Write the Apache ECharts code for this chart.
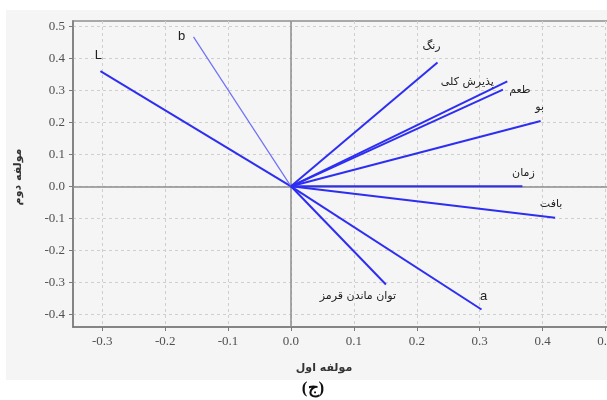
<!DOCTYPE html>
<html>
<head>
<meta charset="utf-8">
<script src="https://cdn.jsdelivr.net/npm/echarts@6/dist/echarts.min.js"></script>
<style>
  html, body { margin: 0; padding: 0; background: #ffffff; }
  #chart { width: 607px; height: 400px; }
</style>
</head>
<body>
<div id="chart"></div>
<script>
// Loading vectors: variable names and their coordinates on the first two components
const variables = ['L', 'b', 'رنگ', 'پذیرش کلی', 'طعم', 'بو', 'زمان', 'بافت', 'توان ماندن قرمز', 'a'];
const pc1 = [-0.303, -0.155, 0.233, 0.344, 0.337, 0.397, 0.368, 0.420, 0.151, 0.303];
const pc2 = [0.360, 0.467, 0.387, 0.328, 0.302, 0.204, 0.000, -0.098, -0.307, -0.385];

// Tick labels on both axes
const xTicks = [-0.3, -0.2, -0.1, 0.0, 0.1, 0.2, 0.3, 0.4, 0.5];
const yTicks = [-0.4, -0.3, -0.2, -0.1, 0.0, 0.1, 0.2, 0.3, 0.4, 0.5];

const xTitle = 'مولفه اول';
const yTitle = 'مولفه دوم';
const panelTag = '(ج)';

// Label placement next to each arrow tip (pixel offsets)
const labelOffsets = [[-2, -16], [-12, 0], [-6, -16], [-40, 1], [17, 0], [-1, -14], [1, -13], [-4, -14], [-28, 12], [2, -13]];

const latinLabel = { fontFamily: 'Liberation Sans', fontSize: 13, color: '#222' };
const persianLabel = { fontFamily: 'DejaVu Sans', fontSize: 11, color: '#222' };

const vectorSeries = variables.map((name, i) => {
  const isLatin = /^[A-Za-z]$/.test(name);
  const thin = name === 'b';
  return {
    type: 'line',
    name: name,
    z: 3,
    symbol: 'circle',
    symbolSize: 0,
    showSymbol: true,
    silent: true,
    animation: false,
    lineStyle: { color: thin ? '#6f6ff8' : '#2e2ef2', width: thin ? 1.2 : 2 },
    itemStyle: { color: 'transparent' },
    data: [
      { value: [0, 0], label: { show: false } },
      {
        value: [pc1[i], pc2[i]],
        label: Object.assign({
          show: true,
          position: 'inside',
          align: 'center',
          verticalAlign: 'middle',
          offset: labelOffsets[i],
          formatter: name
        }, isLatin ? latinLabel : persianLabel)
      }
    ]
  };
});

// Zero reference lines through the origin, kept beneath the vectors
const zeroLines = {
  type: 'line',
  z: 1,
  silent: true,
  data: [],
  markLine: {
    silent: true,
    z: 1,
    symbol: ['none', 'none'],
    animation: false,
    label: { show: false },
    lineStyle: { color: '#8c8c8c', width: 1.5, type: 'solid' },
    data: [{ xAxis: 0 }, { yAxis: 0 }]
  }
};

const tickFont = { fontFamily: 'Liberation Serif', fontSize: 13, color: '#505050' };

const option = {
  backgroundColor: '#ffffff',
  animation: false,
  grid: {
    left: 73, width: 545, top: 21, bottom: 73,
    outerBoundsMode: 'none',
    containLabel: false,
    show: true,
    backgroundColor: '#f5f5f5',
    borderColor: '#a8a8a8',
    borderWidth: 2
  },
  xAxis: {
    type: 'value',
    min: -0.3466,
    max: 0.52,
    axisLine: { onZero: false, lineStyle: { color: '#7a7a7a', width: 1.5 } },
    axisTick: { show: true, length: 4, customValues: xTicks, lineStyle: { color: '#7a7a7a' } },
    axisLabel: Object.assign({ customValues: xTicks, margin: 8, formatter: v => v.toFixed(1) }, tickFont),
    splitLine: { show: true, lineStyle: { color: '#cfcfcf', type: [3, 3], width: 1 } }
  },
  yAxis: {
    type: 'value',
    min: -0.4397,
    max: 0.5166,
    axisLine: { show: true, onZero: false, lineStyle: { color: '#7a7a7a', width: 1.5 } },
    axisTick: { show: true, length: 4, customValues: yTicks, lineStyle: { color: '#7a7a7a' } },
    axisLabel: Object.assign({ customValues: yTicks, margin: 8, formatter: v => v.toFixed(1) }, tickFont),
    splitLine: { show: true, lineStyle: { color: '#cfcfcf', type: [3, 3], width: 1 } }
  },
  graphic: {
    elements: [
      {
        type: 'rect', z: -100, silent: true,
        shape: { x: 6, y: 10, width: 601, height: 370 },
        style: { fill: '#f5f5f5' }
      },
      {
        type: 'text', silent: true,
        x: 324, y: 368,
        style: {
          text: xTitle, fontFamily: 'DejaVu Sans', fontWeight: 'bold', fontSize: 11,
          fill: '#333', align: 'center', verticalAlign: 'middle'
        }
      },
      {
        type: 'text', silent: true,
        x: 18, y: 177, rotation: Math.PI / 2,
        style: {
          text: yTitle, fontFamily: 'DejaVu Sans', fontWeight: 'bold', fontSize: 11,
          fill: '#333', align: 'center', verticalAlign: 'middle'
        }
      },
      {
        type: 'text', silent: true,
        x: 313, y: 389,
        style: {
          text: panelTag, fontFamily: 'Liberation Serif', fontWeight: 'bold', fontSize: 17,
          fill: '#111', align: 'center', verticalAlign: 'middle'
        }
      }
    ]
  },
  series: [zeroLines].concat(vectorSeries)
};

const chart = echarts.init(document.getElementById('chart'), null, { renderer: 'canvas' });
chart.setOption(option);
</script>
</body>
</html>
